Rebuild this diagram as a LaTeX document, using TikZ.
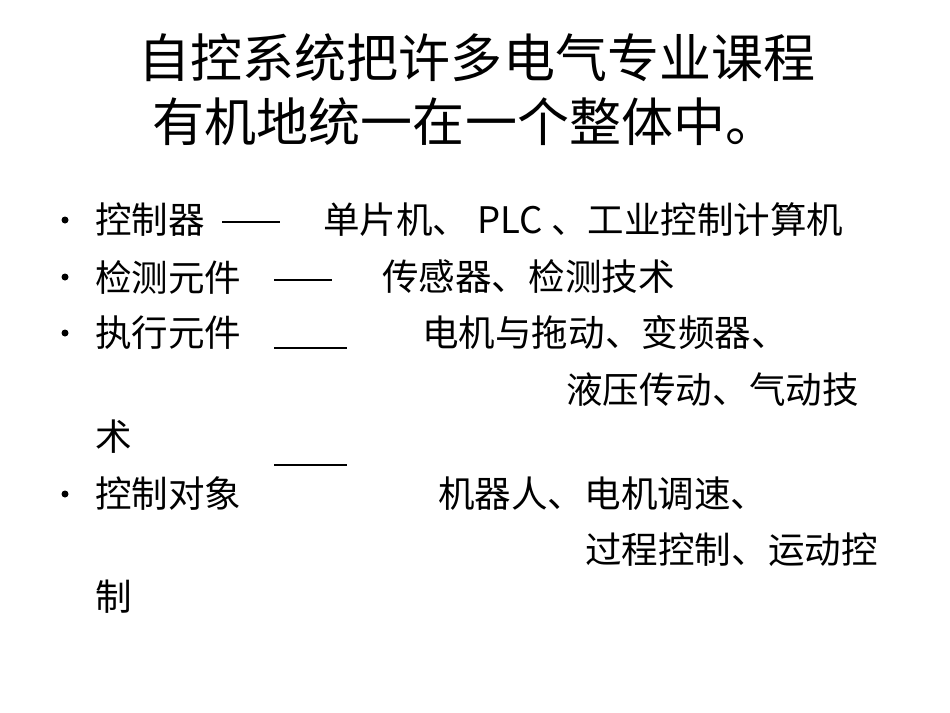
\documentclass[tikz,border=0pt]{standalone}
\usepackage{fontspec}
\setmainfont{Noto Sans CJK SC}
\usepackage{tikz}
\tikzset{
  title/.style={font=\fontsize{29.6}{34}\selectfont, inner sep=0pt},
  item/.style={font=\fontsize{20.8}{24}\selectfont, inner sep=0pt, anchor=west},
  rule/.style={line width=1pt}
}
\begin{document}
\begin{tikzpicture}[x=0.02cm, y=-0.02cm]
  \useasboundingbox (0,0) rectangle (950,713);
  % title
  \node[title] (t1) at (477,58) {自控系统把许多电气专业课程};
  \node[title] (t2) at (465,122) {有机地统一在一个整体中。};
  % bullets
  \foreach \y in {220,277,333,494}
    \fill (65,\y) circle (3.5);
  % rows
  \node[item] (a1) at (95,220) {控制器};
  \node[item] (a2) at (323,220) {单片机、 PLC 、工业控制计算机};
  \node[item] (b1) at (95,277) {检测元件};
  \node[item] (b2) at (382,277) {传感器、检测技术};
  \node[item] (c1) at (95,333) {执行元件};
  \node[item] (c2) at (422,333) {电机与拖动、变频器、};
  \node[item] (c3) at (566,390) {液压传动、气动技};
  \node[item] (c4) at (95,437) {术};
  \node[item] (d1) at (95,494) {控制对象};
  \node[item] (d2) at (438,494) {机器人、电机调速、};
  \node[item] (d3) at (585,550) {过程控制、运动控};
  \node[item] (d4) at (95,597) {制};
  % dashes
  \draw[rule] (222,222) -- (280,222);
  \draw[rule] (274,280) -- (332,280);
  \draw[rule] (274,348) -- (347,348);
  \draw[rule] (274,465) -- (347,465);
\end{tikzpicture}
\end{document}
